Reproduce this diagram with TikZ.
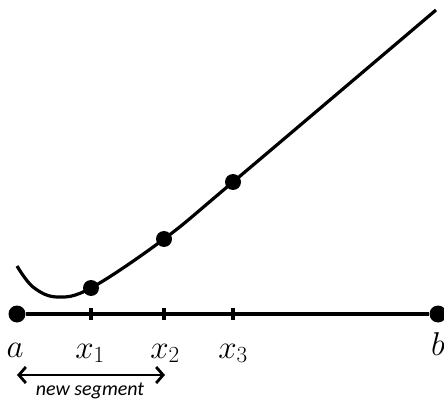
\documentclass[tikz,border=0pt]{standalone}
\usepackage{fix-cm}
\usepackage{fontspec}
\newfontfamily\calib{Carlito}
\usetikzlibrary{arrows.meta}
\begin{document}
\begin{tikzpicture}[x=1pt,y=-1pt,
  dot/.style={circle,fill=black,inner sep=0pt,minimum size=16pt},
  enddot/.style={circle,fill=black,inner sep=0pt,minimum size=17pt},
  lbl/.style={font=\fontsize{33}{35}\selectfont,inner sep=0pt,anchor=base},
  thick line/.style={line width=3.2pt},
  tick/.style={line width=3.2pt}]
\useasboundingbox (0,0) rectangle (444,403);
% axis
\node[enddot] (a) at (17,314) {};
\node[enddot] (b) at (438,314) {};
\draw[thick line] (a) -- (b);
\coordinate (t1) at (91,314);
\coordinate (t2) at (164,314);
\coordinate (t3) at (233,314);
\foreach \t in {t1,t2,t3}{\draw[tick] ([yshift=-6pt]\t) -- ([yshift=6pt]\t);}
% curve
\draw[thick line] plot[smooth,tension=0.6] coordinates {(17,266) (33,287) (57,297) (91,288) (164,239) (233,182) (436,10)};
\node[dot] (p1) at (91,288) {};
\node[dot] (p2) at (164,239) {};
\node[dot] (p3) at (233,182) {};
% labels
\node[lbl] (la) at (15,357) {$a$};
\node[lbl] (l1) at (90,358) {$x_1$};
\node[lbl] (l2) at (165,358) {$x_2$};
\node[lbl] (l3) at (233,358) {$x_3$};
\node[lbl] (lb) at (438,355) {$b$};
% arrow
\coordinate (s1) at (17,375);
\coordinate (s2) at (165,375);
\draw[line width=2.8pt,{Straight Barb[length=7pt,width=16pt]}-{Straight Barb[length=7pt,width=16pt]}] (s1) -- (s2);
\node[inner sep=0pt,font=\calib\itshape\fontsize{20}{22}\selectfont] (ns) at (90,391) {new segment};
\end{tikzpicture}
\end{document}
